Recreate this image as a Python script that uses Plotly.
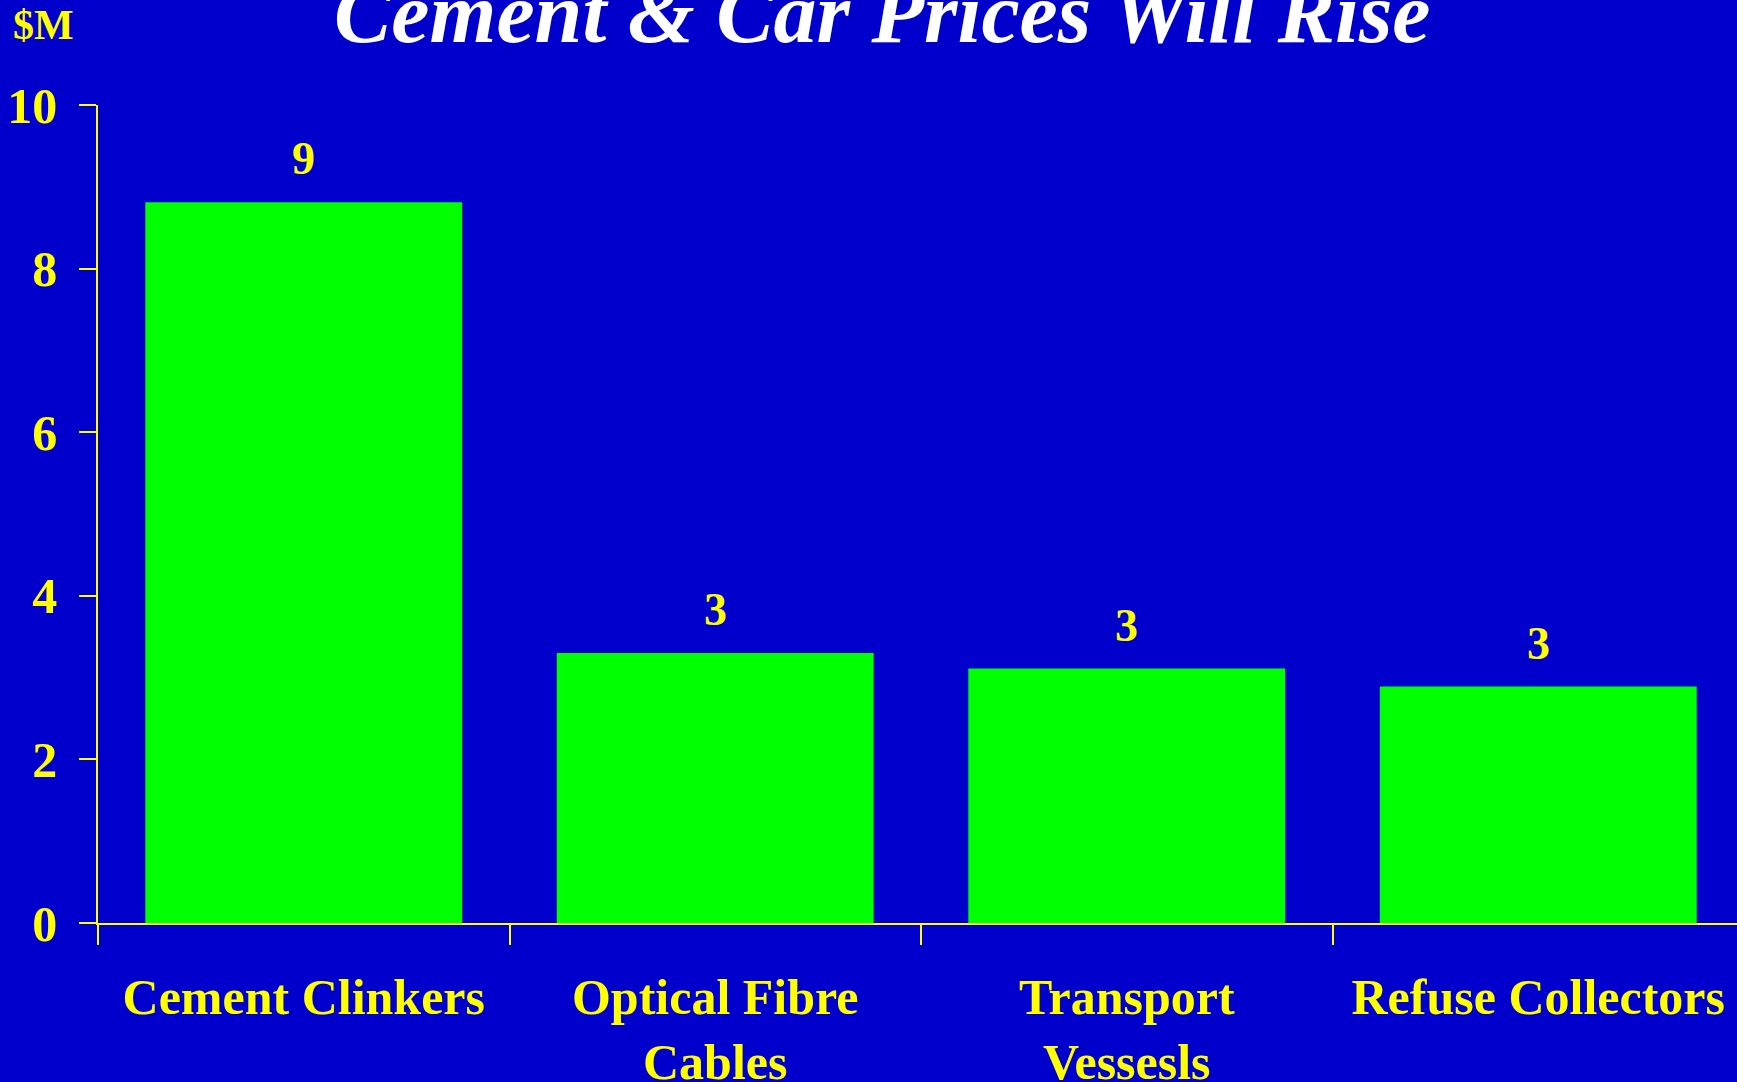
import plotly.graph_objects as go

categories = ["Cement Clinkers", "Optical Fibre<br>Cables", "Transport<br>Vessesls", "Refuse Collectors"]
values = [8.81, 3.30, 3.11, 2.89]
value_labels = ["9", "3", "3", "3"]
y_ticks = [0, 2, 4, 6, 8, 10]

BG = "#0000CC"
YEL = "#FFFF00"
GRN = "#00FF00"
FONT = "Liberation Serif"

W, H = 1737, 1082
x0_px, top_px, bot_px = 97.5, 105, 923

fig = go.Figure()
fig.add_trace(go.Bar(
    x=categories, y=values,
    marker=dict(color=GRN, line=dict(width=0)),
    width=0.77, hoverinfo="skip",
))

for cat, v, lab in zip(categories, values, value_labels):
    fig.add_annotation(x=cat, y=v, text=lab, showarrow=False, xref="x", yref="y",
                       yanchor="bottom", yshift=16,
                       font=dict(family=FONT, size=46, color=YEL, weight="bold"))

x_end = -0.5 + 4 * (W - x0_px) / (1744 - x0_px)


def px_to_paper_x(px):
    return (px - x0_px) / (W - x0_px)


def px_to_paper_y(py):
    return (bot_px - py) / (bot_px - top_px)


fig.add_annotation(x=px_to_paper_x(10), y=px_to_paper_y(50), xref="paper", yref="paper",
                   xanchor="left", yanchor="bottom", text="$M", showarrow=False,
                   font=dict(family=FONT, size=42, color=YEL, weight="bold"))
fig.add_annotation(x=px_to_paper_x(882), y=px_to_paper_y(63), xref="paper", yref="paper",
                   xanchor="center", yanchor="bottom", text="Cement & Car Prices Will Rise",
                   showarrow=False,
                   font=dict(family=FONT, size=86, color="white", weight="bold", style="italic"))

fig.update_layout(
    width=W, height=H,
    paper_bgcolor=BG, plot_bgcolor=BG,
    margin=dict(l=x0_px, r=0, t=top_px, b=H - bot_px, pad=0, autoexpand=False),
    showlegend=False,
    xaxis=dict(
        type="category",
        range=[-0.5, x_end],
        automargin=False,
        tickson="boundaries", ticks="outside", ticklen=20, tickcolor=YEL, tickwidth=1.5,
        showline=True, linecolor=YEL, linewidth=2,
        showgrid=False, zeroline=False,
        ticklabelstandoff=29,
        tickfont=dict(family=FONT, size=50, color=YEL, weight="bold"),
        fixedrange=True,
    ),
    yaxis=dict(
        range=[0, 10],
        automargin=False,
        tickmode="array", tickvals=y_ticks, ticktext=[str(t) for t in y_ticks],
        ticks="outside", ticklen=17, tickcolor=YEL, tickwidth=1.5,
        showline=True, linecolor=YEL, linewidth=1.5,
        showgrid=False, zeroline=False,
        ticklabelstandoff=12,
        tickfont=dict(family=FONT, size=50, color=YEL, weight="bold"),
        fixedrange=True,
    ),
)

fig.write_html(
    "out.html",
    config={"displayModeBar": False},
    post_script="document.body.style.margin='0';document.body.style.background='#0000CC';",
)
